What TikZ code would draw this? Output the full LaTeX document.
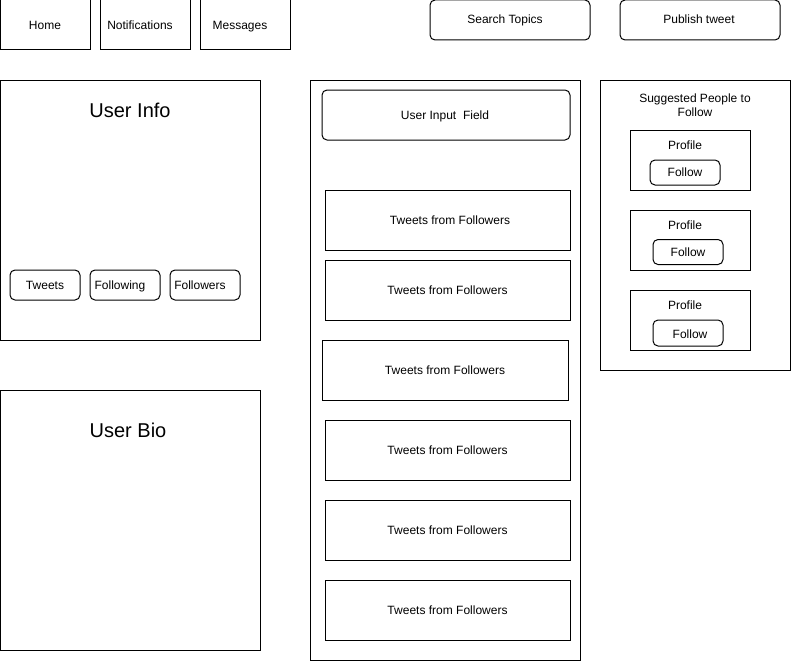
\documentclass[tikz,border=0pt]{standalone}
\usepackage{fontspec}
\setmainfont{Liberation Sans}
\usetikzlibrary{positioning}

\begin{document}
\begin{tikzpicture}[x=1pt,y=-1pt,node distance=10pt,
    box/.style={draw, rectangle, line width=1pt, inner sep=0pt, align=center, text height=8.6pt, text depth=0pt, font=\fontsize{12}{14}\selectfont},
    btn/.style={box, rounded corners=5pt},
    lbl/.style={inner sep=0pt, align=center, text height=8.6pt, text depth=0pt, font=\fontsize{12}{14}\selectfont},
    title/.style={inner sep=0pt, text height=14.3pt, text depth=0pt, font=\fontsize{20}{24}\selectfont}]
    \useasboundingbox (0,0) rectangle (791,661);
    % top bar
    \node[box, minimum width=90pt, minimum height=50pt] (m_home) at (45,25) {Home};
    \node[box, minimum width=90pt, minimum height=50pt] (m_noti) at (145,25) {};
    \node[lbl] (t_noti) at (140,25) {Notifications};
    \node[box, minimum width=90pt, minimum height=50pt] (m_msg) at (245,25) {};
    \node[lbl] (t_msg) at (240,25) {Messages};
    \node[btn, minimum width=160pt, minimum height=40pt] (m_search) at (510,20) {};
    \node[lbl] (t_search) at (505,19) {Search Topics};
    \node[btn, minimum width=160pt, minimum height=40pt] (m_pub) at (700,20) {};
    \node[lbl] (t_pub) at (699,19) {Publish tweet};
    % left column
    \node[box, minimum width=260pt, minimum height=260pt] (u_info) at (130,210) {};
    \node[title] (t_info) at (130,110) {User Info};
    \node[btn, minimum width=70pt, minimum height=30pt] (b_tweets) at (45,285) {Tweets};
    \node[btn, minimum width=70pt, minimum height=30pt] (b_following) at (125,285) {};
    \node[lbl] (t_following) at (120,285) {Following};
    \node[btn, minimum width=70pt, minimum height=30pt] (b_followers) at (205,285) {};
    \node[lbl] (t_followers) at (200,285) {Followers};
    \node[box, minimum width=260pt, minimum height=260pt] (u_bio) at (130,520) {};
    \node[title] (t_bio) at (128,430) {User Bio};
    % middle column
    \node[box, minimum width=270pt, minimum height=580pt] (feed) at (445,370) {};
    \node[btn, minimum width=248pt, minimum height=50pt] (f_input) at (446,115) {};
    \node[lbl] (t_input) at (445,115) {User Input~ Field};
    \node[box, minimum width=245pt, minimum height=60pt] (tw_1) at (447.5,220) {};
    \node[lbl] (l_tw1) at (450,220) {Tweets from Followers};
    \node[box, minimum width=245pt, minimum height=60pt] (tw_2) at (447.5,290) {Tweets from Followers};
    \node[box, minimum width=246pt, minimum height=60pt] (tw_3) at (445,370) {Tweets from Followers};
    \node[box, minimum width=245pt, minimum height=60pt] (tw_4) at (447.5,450) {Tweets from Followers};
    \node[box, minimum width=245pt, minimum height=60pt] (tw_5) at (447.5,530) {Tweets from Followers};
    \node[box, minimum width=245pt, minimum height=60pt] (tw_6) at (447.5,610) {Tweets from Followers};
    % right column
    \node[box, minimum width=190pt, minimum height=290pt] (sugg) at (695,225) {};
    \node[lbl] (t_sugg) at (695,112) {Suggested People to\\Follow};
    \node[box, minimum width=120pt, minimum height=60pt] (p_1) at (690,160) {};
    \node[box, minimum width=120pt, minimum height=60pt] (p_2) at (690,240) {};
    \node[box, minimum width=120pt, minimum height=60pt] (p_3) at (690,320) {};
    \node[lbl] (l_1) at (685,145) {Profile};
    \node[lbl] (l_2) at (685,225) {Profile};
    \node[lbl] (l_3) at (685,305) {Profile};
    \node[btn, minimum width=70pt, minimum height=25pt] (f_1) at (685,172.5) {Follow};
    \node[btn, minimum width=70pt, minimum height=25pt] (f_2) at (688,252) {Follow};
    \node[btn, minimum width=70pt, minimum height=26pt] (f_3) at (688,333) {};
    \node[lbl] (t_f3) at (690,334) {Follow};
\end{tikzpicture}
\end{document}
